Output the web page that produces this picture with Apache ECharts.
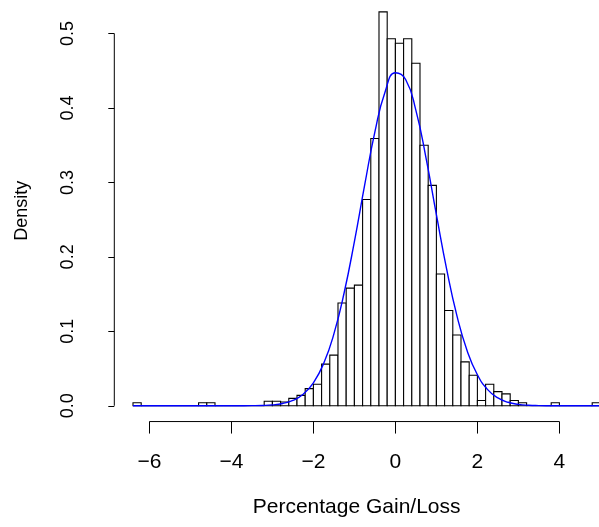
<!DOCTYPE html>
<html>
<head>
<meta charset="utf-8">
<script src="https://cdn.jsdelivr.net/npm/echarts@6/dist/echarts.min.js"></script>
<style>
html,body{margin:0;padding:0;background:#fff;}
#c{width:599px;height:527px;}
</style>
</head>
<body>
<div id="c"></div>
<script>
// Histogram bin breaks (width 0.2)
const breaks = [-6.4,-6.2,-6.0,-5.8,-5.6,-5.4,-5.2,-5.0,-4.8,-4.6,-4.4,-4.2,-4.0,-3.8,-3.6,-3.4,-3.2,-3.0,-2.8,-2.6,-2.4,-2.2,-2.0,-1.8,-1.6,-1.4,-1.2,-1.0,-0.8,-0.6,-0.4,-0.2,0.0,0.2,0.4,0.6,0.8,1.0,1.2,1.4,1.6,1.8,2.0,2.2,2.4,2.6,2.8,3.0,3.2,3.4,3.6,3.8,4.0,4.2,4.4,4.6,4.8,5.0];
// Density of each bin
const densities = [0.004,0,0,0,0,0,0,0,0.004,0.004,0,0,0,0,0,0,0.006,0.006,0.005,0.010,0.014,0.023,0.029,0.056,0.068,0.138,0.158,0.162,0.277,0.359,0.529,0.493,0.487,0.493,0.460,0.350,0.296,0.177,0.128,0.095,0.059,0.041,0.007,0.029,0.019,0.016,0.007,0.004,0,0,0,0.004,0,0,0,0,0.004];
// Blue density curve
const curveX = [-6.4,-4.0,-3.75,-3.5,-3.25,-3.0,-2.75,-2.5,-2.25,-2.0,-1.75,-1.5,-1.25,-1.0,-0.75,-0.5,-0.25,0.0,0.25,0.5,0.75,1.0,1.25,1.5,1.75,2.0,2.25,2.5,2.75,3.0,3.25,3.5,3.75,4.0,5.0];
const curveY = [0,0.00003,0.00005,0.00015,0.00044,0.0012,0.0031,0.0072,0.0154,0.0308,0.0567,0.0965,0.1518,0.2206,0.2963,0.3678,0.4219,0.4473,0.4382,0.3968,0.3319,0.2567,0.1834,0.1211,0.0739,0.0417,0.0217,0.0105,0.0047,0.0019,0.0007,0.00026,0.00008,0.00002,0];
// Tick labels
const xTicks = [-6,-4,-2,0,2,4];
const yTicks = [0,0.1,0.2,0.3,0.4,0.5];

const X_MIN = -6.856, X_MAX = 4.966;
const Y_MIN = -0.0212, Y_MAX = 0.545;
const FONT = '"Liberation Sans", Arial, Helvetica, sans-serif';

const chart = echarts.init(document.getElementById('c'), null, {renderer:'canvas'});
const barData = densities.map((d,i)=>[breaks[i], breaks[i+1], d]);
const curveData = curveX.map((x,i)=>[x, curveY[i]]);

chart.setOption({
  animation:false,
  backgroundColor:'#ffffff',
  grid:{left:114.3, right:0, top:0, bottom:105.44, containLabel:false},
  xAxis:{
    type:'value', min:X_MIN, max:X_MAX,
    axisLine:{show:false, onZero:false},
    splitLine:{show:false},
    axisTick:{show:true, customValues:xTicks, length:12, lineStyle:{color:'#000', width:1}},
    axisLabel:{show:true, customValues:xTicks, margin:30, fontSize:21, color:'#000', fontFamily:FONT,
      formatter:v=> v<0 ? '\u2212'+Math.abs(v) : String(v)},
    name:'Percentage Gain/Loss', nameLocation:'middle', nameGap:75,
    nameTextStyle:{fontSize:21, color:'#000', fontFamily:FONT}
  },
  yAxis:{
    type:'value', min:Y_MIN, max:Y_MAX,
    axisLine:{show:false, onZero:false},
    splitLine:{show:false},
    axisTick:{show:true, customValues:yTicks, length:6, lineStyle:{color:'#000', width:1}},
    axisLabel:{show:true, customValues:yTicks, rotate:90, margin:37, fontSize:18, color:'#000', fontFamily:FONT,
      formatter:v=> v.toFixed(1)},
    name:'Density', nameLocation:'middle', nameRotate:90, nameGap:83,
    nameTextStyle:{fontSize:18, color:'#000', fontFamily:FONT}
  },
  series:[
    {
      type:'custom', clip:true, z:2,
      encode:{x:[0,1], y:2},
      data:barData,
      renderItem:(params, api)=>{
        const p0 = api.coord([api.value(0), 0]);
        const p1 = api.coord([api.value(1), api.value(2)]);
        return {type:'rect', shape:{x:p0[0], y:p1[1], width:p1[0]-p0[0], height:p0[1]-p1[1]},
          style:{fill:'#ffffff', stroke:'#000000', lineWidth:1.1}};
      }
    },
    {
      type:'line', z:3, data:curveData, showSymbol:false, smooth:0.5,
      lineStyle:{color:'#0000ff', width:1.4}, silent:true
    },
    {
      type:'custom', clip:false, z:4, silent:true,
      data:[[xTicks[0], xTicks[xTicks.length-1], yTicks[0], yTicks[yTicks.length-1]]],
      renderItem:(params, api)=>{
        const a = api.coord([api.value(0), Y_MIN]);
        const b = api.coord([api.value(1), Y_MIN]);
        const c = api.coord([X_MIN, api.value(2)]);
        const d = api.coord([X_MIN, api.value(3)]);
        return {type:'group', children:[
          {type:'line', shape:{x1:a[0], y1:a[1], x2:b[0], y2:b[1]}, style:{stroke:'#000', lineWidth:1}},
          {type:'line', shape:{x1:c[0], y1:c[1], x2:d[0], y2:d[1]}, style:{stroke:'#000', lineWidth:1}}
        ]};
      }
    }
  ]
});
</script>
</body>
</html>
